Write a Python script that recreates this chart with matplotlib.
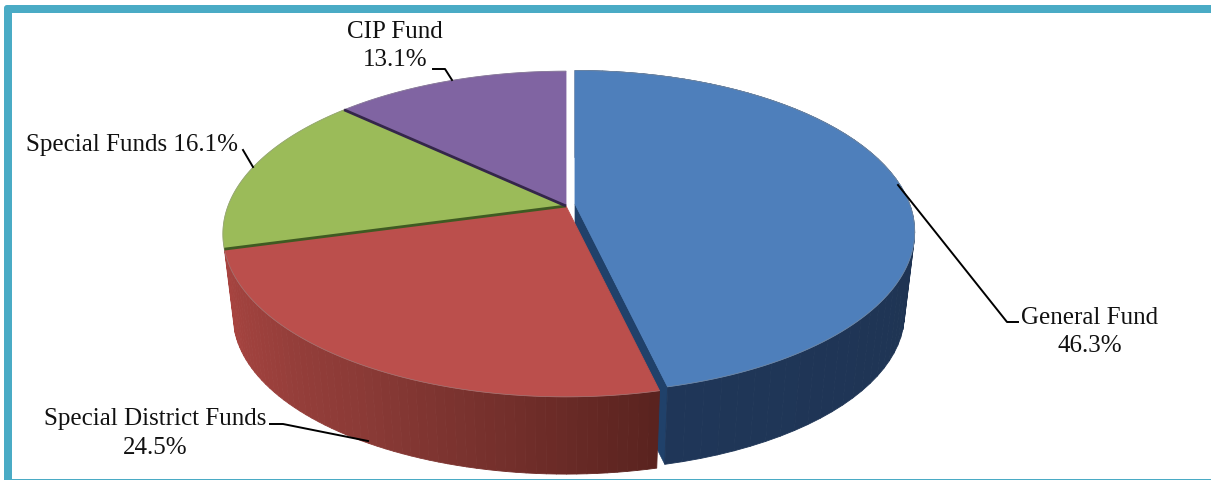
import numpy as np
import matplotlib
matplotlib.use("Agg")
import matplotlib.pyplot as plt
from matplotlib.collections import PolyCollection
from matplotlib.colors import to_rgb
from matplotlib.patches import FancyBboxPatch, Polygon

# Chart data, clockwise from the top
funds = ["General Fund", "Special District Funds", "Special Funds", "CIP Fund"]
shares = [46.3, 24.5, 16.1, 13.1]
top_colors = ["#4e7fbb", "#bb4f4c", "#9bbb59", "#8064a2"]

# Wall shading along each visible slice (fraction of the slice, colour)
blue_wall = [(0.0, "#1f3658"), (0.5, "#1f3452"), (1.0, "#213553")]
red_wall = [(0.0, "#5a231f"), (0.26, "#75302c"), (0.5, "#8a3a36"), (0.75, "#9a403c"), (1.0, "#a84440")]


# Perspective of the pie, in pixels of the picture
CX, CY = 566, 207
A, B, P = 338, 158, 0.172
DEPTH = 83
BOTTOM_SCALE = 0.97


def rim(theta, dx=0, dy=0, scale=1.0, drop=0):
    u, v = np.sin(theta), np.cos(theta)
    w = 1 + P * v
    return np.column_stack((CX + dx + scale * A * u / w, CY + dy + drop - scale * B * v / w))


def wall_colors(stops, n):
    pos = [s[0] for s in stops]
    rgb = np.array([to_rgb(s[1]) for s in stops])
    f = np.linspace(0, 1, n)
    return np.column_stack([np.interp(f, pos, rgb[:, i]) for i in range(3)])


fig = plt.figure(figsize=(12.11, 4.81), dpi=100)
ax = fig.add_axes([0, 0, 1, 1])
ax.set_xlim(0, 1211)
ax.set_ylim(481, 0)
ax.axis("off")

# Frame: thick on the left and top, hairline at the bottom, none on the right
frame = "#4aabc5"
ax.add_patch(FancyBboxPatch((4, 6), 1300, 480, boxstyle="round,pad=0,rounding_size=3",
                            fc=frame, ec="none", zorder=0))
ax.add_patch(plt.Rectangle((12, 14), 1300, 466, fc="white", ec="none", zorder=0.5))

edges = np.radians(np.cumsum([0] + shares) * 3.6)
slices = [(edges[i], edges[i + 1]) for i in range(len(shares))]
blue_dx, blue_dy, blue_scale = 9, -2, 0.99

# Blue slice: cut face, then wall
t0, t1 = slices[0]
end_top = rim(np.array([t1]), blue_dx, blue_dy, blue_scale)[0]
end_bot = rim(np.array([t1]), blue_dx, blue_dy, blue_scale * BOTTOM_SCALE, DEPTH)[0]
apex = (CX + blue_dx, CY + blue_dy)
ax.add_patch(Polygon([apex, end_top, end_bot, (apex[0], apex[1] + DEPTH)],
                     fc="#20416a", ec="#20416a", lw=0.5, zorder=1))

for i, stops in [(0, blue_wall), (1, red_wall)]:
    t0, t1 = slices[i]
    th = np.linspace(t0, t1, 61)
    if i == 0:
        th = th[::-1]
        up = rim(th, blue_dx, blue_dy, blue_scale)
        low = rim(th, blue_dx, blue_dy, blue_scale * BOTTOM_SCALE, DEPTH)
    else:
        up = rim(th)
        low = rim(th, scale=BOTTOM_SCALE, drop=DEPTH)
    quads = [[up[k], up[k + 1], low[k + 1], low[k]] for k in range(len(th) - 1)]
    cols = wall_colors(stops, len(quads))
    ax.add_collection(PolyCollection(quads, facecolors=cols, edgecolors=cols, linewidths=0.6,
                                     zorder=2 if i == 0 else 3))

# Top faces
for i, (t0, t1) in enumerate(slices):
    th = np.linspace(t0, t1, 120)
    if i == 0:
        arc = rim(th, blue_dx, blue_dy, blue_scale)
        pts = np.vstack((apex, arc))
    else:
        arc = rim(th)
        pts = np.vstack(([CX, CY], arc))
    # same-colour edge so the wall behind does not peek out along the straight side
    ax.add_patch(Polygon(pts, closed=True, fc=top_colors[i], ec=top_colors[i], lw=0.6, zorder=4))
    ax.plot(*arc.T, color="#8f8f8f", lw=0.5, alpha=0.6, zorder=4.1)

# Dark seams between the flat slices
for t, col in [(slices[1][1], "#3f5a22"), (slices[2][1], "#34264a")]:
    p = rim(np.array([t]))[0]
    ax.plot([CX, p[0]], [CY, p[1]], color=col, lw=2.0, zorder=5, solid_capstyle="butt")

# Leader lines
leaders = [
    [(898, 186), (1007, 323), (1018, 323)],
    [(270, 425), (283, 425), (368, 442)],
    [(243, 151), (253, 168)],
    [(433, 70), (445, 70), (452, 81)],
]
for line in leaders:
    xs, ys = zip(*line)
    ax.plot(xs, ys, color="black", lw=1.4, zorder=6)

# Labels
font = dict(family="Liberation Serif", fontsize=18, color="#111111", ha="center", va="center", zorder=7)
ax.text(395, 32, funds[3], **font)
ax.text(395, 60, f"{shares[3]}%", **font)
ax.text(132, 145, f"{funds[2]} {shares[2]}%", **font)
ax.text(155, 419, funds[1], **font)
ax.text(155, 448, f"{shares[1]}%", **font)
ax.text(1090, 318, funds[0], **font)
ax.text(1090, 346, f"{shares[0]}%", **font)

fig.savefig("out.png", dpi=100)
